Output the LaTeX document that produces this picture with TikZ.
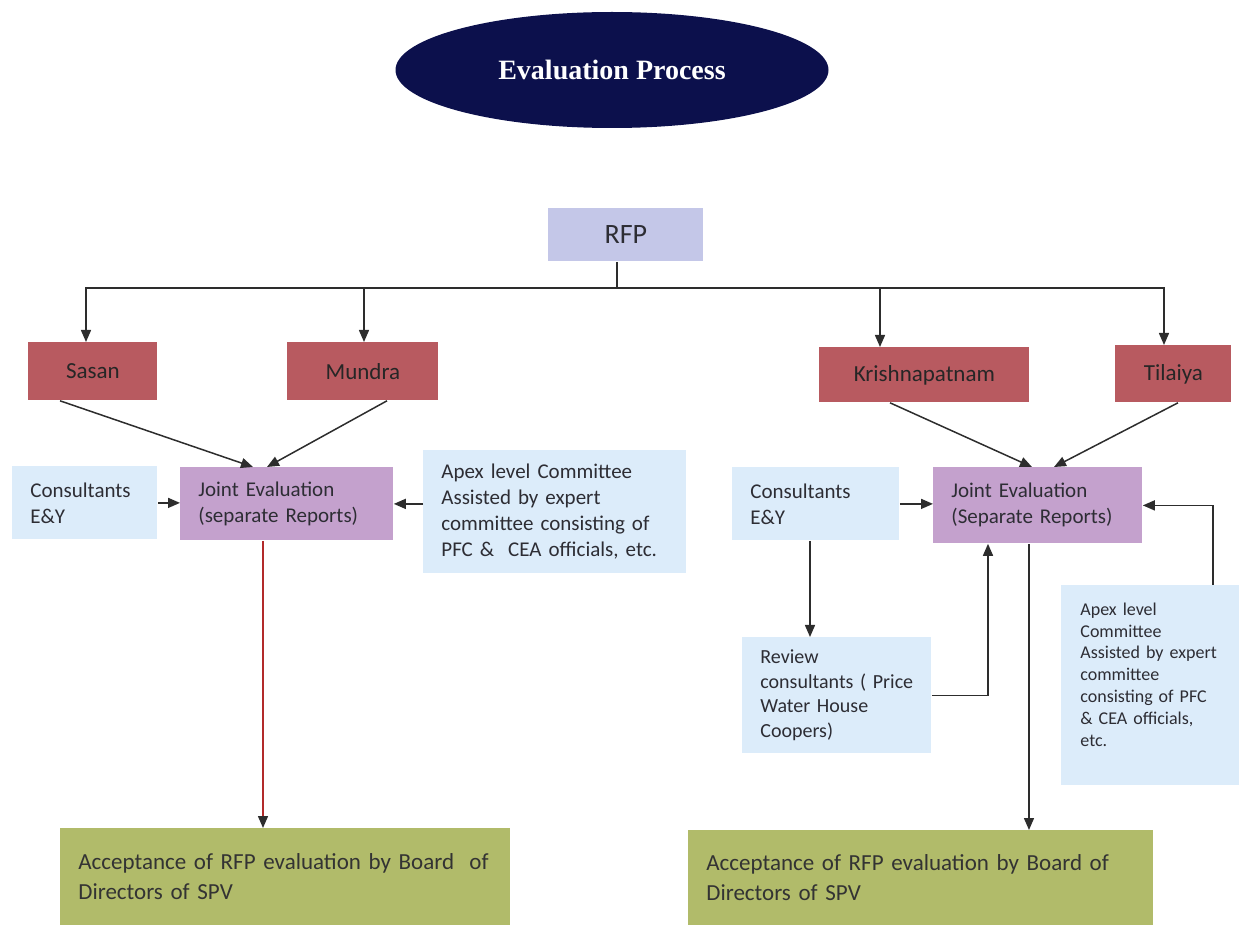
\documentclass[tikz,border=0pt]{standalone}
\usepackage{fontspec}
\setmainfont{Carlito}
\newfontfamily\titlefont{Liberation Serif}
\usetikzlibrary{positioning,arrows.meta,shapes.geometric,calc}

\definecolor{navyFill}{RGB}{12,16,76}
\definecolor{rfpLavender}{RGB}{196,199,232}
\definecolor{siteRed}{RGB}{184,90,96}
\definecolor{jointMauve}{RGB}{196,161,205}
\definecolor{noteBlue}{RGB}{220,236,250}
\definecolor{acceptOlive}{RGB}{177,187,106}
\definecolor{lineGray}{RGB}{45,45,45}
\definecolor{textGray}{RGB}{45,45,52}
\definecolor{redLine}{RGB}{178,42,42}

\begin{document}
\begin{tikzpicture}[x=0.5pt, y=-0.5pt,
  every node/.style={font=\fontsize{10.5}{13}\selectfont, text=textGray, anchor=north west, inner ysep=0pt},
  site/.style={fill=siteRed, minimum height=29pt, font=\fontsize{11.5}{14}\selectfont, text=black!85},
  note/.style={fill=noteBlue, align=left, inner xsep=9pt},
  joint/.style={fill=jointMauve, align=left, inner xsep=9pt},
  accept/.style={fill=acceptOlive, align=left, inner xsep=9pt, font=\fontsize{11.5}{15}\selectfont, text=black!80},
  plain/.style={line width=0.75pt, draw=lineGray},
  arr/.style={plain, -{Triangle[length=6pt,width=5pt]}},
  redarr/.style={line width=0.75pt, draw=redLine, -{Triangle[length=6pt,width=5pt,color=lineGray]}}]
\useasboundingbox (0,0) rectangle (1239,925);

% title
\node[ellipse, fill=navyFill, anchor=center, minimum width=216.5pt, minimum height=58pt,
  text=white, font=\titlefont\bfseries\fontsize{14}{16}\selectfont] (title) at (612,70) {Evaluation Process};

% top level
\node[fill=rfpLavender, minimum width=77.5pt, minimum height=26.5pt, font=\fontsize{14}{16}\selectfont] (rfp) at (548,208) {RFP};
\node[site, minimum width=64.5pt] (sasan) at (28,342) {Sasan};
\node[site, minimum width=75.5pt] (mundra) at (287,342) {Mundra};
\node[site, minimum width=105pt, minimum height=27.5pt] (krish) at (819,347) {Krishnapatnam};
\node[site, minimum width=58pt, minimum height=28.5pt] (tilaiya) at (1115,345) {Tilaiya};

% left branch
\node[note, text width=54.5pt, minimum height=36.5pt] (consL) at (12,466) {Consultants\\E\&Y};
\node[joint, text width=88.5pt, minimum height=36.5pt] (jointL) at (180,467) {Joint Evaluation\\(separate Reports)};
\node[note, text width=113.5pt, minimum height=61.5pt] (apexL) at (423,450)
  {Apex level Committee\\Assisted by expert\\committee consisting of\\PFC \&~ CEA officials, etc.};
\node[accept, text width=207pt, minimum height=48.5pt] (accL) at (60,828)
  {Acceptance of RFP evaluation by Board~ of\\Directors of SPV};

% right branch
\node[note, text width=65.5pt, minimum height=36.5pt] (consR) at (732,467) {Consultants\\E\&Y};
\node[joint, text width=86.5pt, minimum height=38pt] (jointR) at (933,467) {Joint Evaluation\\(Separate Reports)};
\node[note, text width=76.5pt, minimum height=58pt, font=\fontsize{10}{12.3}\selectfont] (review) at (742,637)
  {Review\\consultants ( Price\\Water House\\Coopers)};
\node[note, inner xsep=9.5pt, text width=70pt, minimum height=100pt, font=\fontsize{9}{10.9}\selectfont] (apexR) at (1061,585)
  {Apex level\\Committee\\Assisted by expert\\committee\\consisting of PFC\\\& CEA officials,\\etc.\\\rule{0pt}{2pt}};
\node[accept, text width=214.5pt, minimum height=47.5pt] (accR) at (688,830)
  {Acceptance of RFP evaluation by Board of\\Directors of SPV};

% connectors
\coordinate (bus) at ($(rfp.south west)+(69,26)$);
\draw[plain] (rfp.south -| bus) -- (bus);
\foreach \n/\dx in {sasan/58, mundra/77, krish/61, tilaiya/49}
  \draw[arr] (bus) -| ($(\n.north west)+(\dx,0)$);
\foreach \a/\da/\b/\db in {sasan/32/jointL/73, mundra/100/jointL/87, krish/71/jointR/99, tilaiya/63/jointR/121}
  \draw[arr] ($(\a.south west)+(\da,0)$) -- ($(\b.north west)+(\db,0)$);

\draw[arr] (consL.east) -- (consL.east -| jointL.west);
\draw[arr] (apexL.west |- jointL.east) -- (jointL.east);
\draw[redarr] ($(jointL.south west)+(83,0)$) coordinate (r1) -- (r1 |- accL.north);

\draw[arr] (consR.east) -- (consR.east -| jointR.west);
\draw[arr] ($(consR.south west)+(78,0)$) coordinate (c1) -- (c1 |- review.north);
\draw[arr] (review.east) -| ($(jointR.south west)+(55,0)$);
\draw[arr] ($(apexR.north west)+(152,0)$) |- (jointR.east);
\draw[arr] ($(jointR.south west)+(96,0)$) coordinate (j1) -- (j1 |- accR.north);
\end{tikzpicture}
\end{document}
